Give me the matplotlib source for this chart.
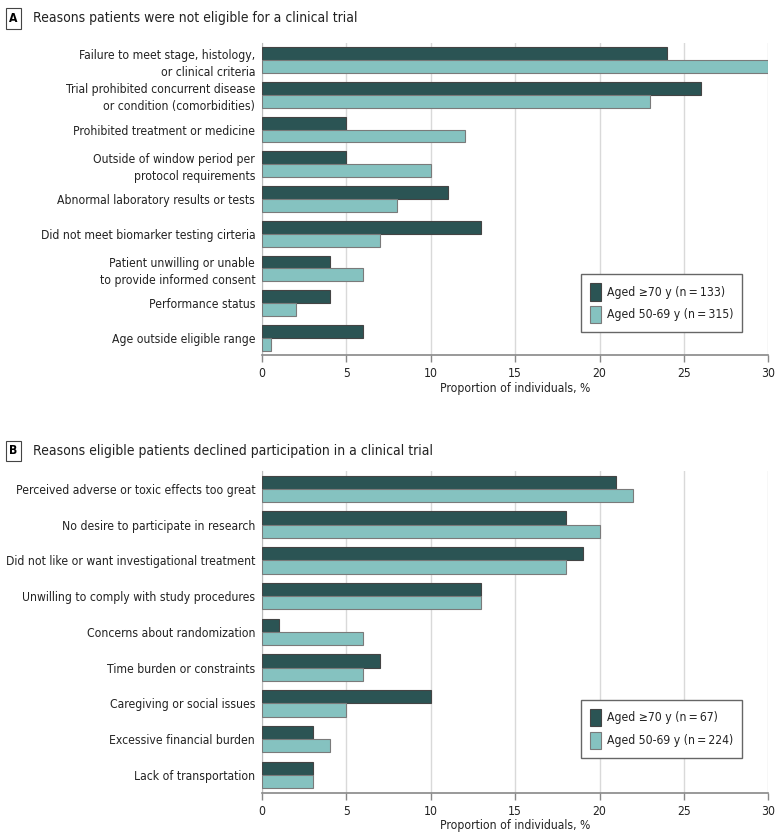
import numpy as np
import matplotlib
matplotlib.use('Agg')
import matplotlib.pyplot as plt

plt.rcParams['font.family'] = ['DejaVu Sans']
plt.rcParams['font.stretch'] = 'condensed'

# Panel A data
cats_a = ['Failure to meet stage, histology,\nor clinical criteria',
          'Trial prohibited concurrent disease\nor condition (comorbidities)',
          'Prohibited treatment or medicine',
          'Outside of window period per\nprotocol requirements',
          'Abnormal laboratory results or tests',
          'Did not meet biomarker testing cirteria',
          'Patient unwilling or unable\nto provide informed consent',
          'Performance status',
          'Age outside eligible range']
old_a = [24, 26, 5, 5, 11, 13, 4, 4, 6]
young_a = [30, 23, 12, 10, 8, 7, 6, 2, 0.5]

# Panel B data
cats_b = ['Perceived adverse or toxic effects too great',
          'No desire to participate in research',
          'Did not like or want investigational treatment',
          'Unwilling to comply with study procedures',
          'Concerns about randomization',
          'Time burden or constraints',
          'Caregiving or social issues',
          'Excessive financial burden',
          'Lack of transportation']
old_b = [21, 18, 19, 13, 1, 7, 10, 3, 3]
young_b = [22, 20, 18, 13, 6, 6, 5, 4, 3]

legend_a = ['Aged \u226570 y (n\u2009=\u2009133)', 'Aged 50-69 y (n\u2009=\u2009315)']
legend_b = ['Aged \u226570 y (n\u2009=\u200967)', 'Aged 50-69 y (n\u2009=\u2009224)']

dark = '#2b5454'
light = '#85c2c0'
edge = '#7a7a7a'
txt = '#222222'
fs = 8.7

fig = plt.figure(figsize=(7.8, 8.38), dpi=100)
ax_a = fig.add_axes([0.336, 0.576, 0.649, 0.373])
ax_b = fig.add_axes([0.336, 0.054, 0.649, 0.384])


def panel(ax, cats, old, young, labels, leg_y):
    y = np.arange(len(cats))
    h = 0.37
    ax.barh(y - h / 2, old, height=h, color=dark, edgecolor='#444444', linewidth=0.8,
            label=labels[0], zorder=3)
    ax.barh(y + h / 2, young, height=h, color=light, edgecolor=edge, linewidth=0.8,
            label=labels[1], zorder=3)
    ax.set_yticks(y)
    ax.set_yticklabels(cats, fontsize=fs, color=txt, linespacing=1.4)
    ax.set_ylim(len(cats) - 0.5, -0.5)
    ax.set_xlim(0, 30)
    ax.set_xticks(range(0, 31, 5))
    ax.tick_params(axis='x', labelsize=fs, colors=txt, length=5, color='#888888', width=1)
    ax.tick_params(axis='y', length=0, pad=5)
    ax.grid(axis='x', color='#d9d9d9', linewidth=1, zorder=0)
    for s in ['top', 'right']:
        ax.spines[s].set_visible(False)
    ax.spines['left'].set_color('#bbbbbb')
    ax.spines['bottom'].set_color('#888888')
    ax.spines['bottom'].set_linewidth(1.2)
    ax.set_xlabel('Proportion of individuals, %', fontsize=fs, color=txt, labelpad=1)
    leg = ax.legend(loc='lower right', bbox_to_anchor=(0.949, leg_y), borderaxespad=0,
                    fontsize=fs, handlelength=0.9, handleheight=1.8, handletextpad=0.5,
                    labelspacing=0.45, borderpad=0.75, fancybox=False, framealpha=1)
    leg.get_frame().set_edgecolor('#666666')
    leg.get_frame().set_linewidth(1)
    for t in leg.get_texts():
        t.set_color(txt)


panel(ax_a, cats_a, old_a, young_a, legend_a, 0.074)
panel(ax_b, cats_b, old_b, young_b, legend_b, 0.109)

box = dict(boxstyle='square,pad=0.3', facecolor='white', edgecolor='#444444', linewidth=0.8)
fig.text(0.012, 0.978, 'A', fontsize=fs, fontweight='bold', va='center', ha='left', bbox=box)
fig.text(0.042, 0.978, 'Reasons patients were not eligible for a clinical trial',
         fontsize=10, va='center', ha='left', color=txt)
fig.text(0.012, 0.462, 'B', fontsize=fs, fontweight='bold', va='center', ha='left', bbox=box)
fig.text(0.042, 0.462, 'Reasons eligible patients declined participation in a clinical trial',
         fontsize=10, va='center', ha='left', color=txt)

fig.savefig('out.png', dpi=100, facecolor='white')
